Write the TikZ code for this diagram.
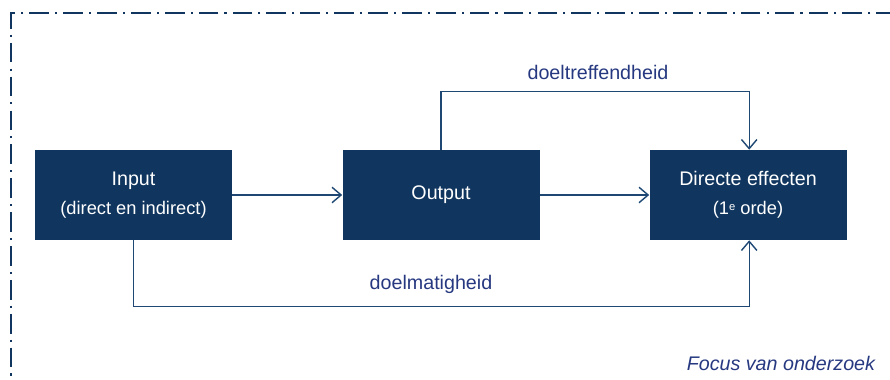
\documentclass[tikz,border=0pt]{standalone}
\usepackage{fontspec}
\setmainfont{Liberation Sans}
\usepackage{tikz}
\usetikzlibrary{arrows.meta, positioning, calc}
\definecolor{boxnavy}{RGB}{16, 53, 94}
\definecolor{linenavy}{RGB}{30, 72, 115}
\definecolor{labelblue}{RGB}{38, 56, 128}

\begin{document}
\begin{tikzpicture}[
    box_node/.style={fill=boxnavy, text=white, minimum width=4.925cm, minimum height=2.25cm, inner sep=0pt, font=\fontsize{14}{16}\selectfont, align=center},
    arrow/.style={-{Straight Barb[length=6.5pt, width=11pt]}, line width=1pt, linenavy},
    route_label/.style={text=labelblue, font=\fontsize{14}{16}\selectfont},
    frame_line/.style={boxnavy, line width=1.4pt, dash pattern=on 14pt off 4.3pt on 1.5pt off 4.3pt}
]
    \useasboundingbox (0,0) rectangle (22.25,9.5);

    % Frame
    \draw[frame_line] (22.4,9.175) -- (0.275,9.175) -- (0.275,-0.2);

    % Boxes
    \node[box_node] (input) at (3.3375,4.625) {Input\\[5pt]{\fontsize{13}{15}\selectfont(direct en indirect)}};
    \node[box_node] (output) at (11.025,4.625) {Output};
    \node[box_node] (effect) at (18.7,4.625) {Directe effecten\\[5pt]{\fontsize{13}{15}\selectfont(1\raisebox{3pt}{\fontsize{8}{9}\selectfont e} orde)}};

    % Arrows
    \draw[arrow] (input.east) -- (output.west);
    \draw[arrow] (output.east) -- (effect.west);
    \draw[arrow] (output.north) -- ++(0,1.45) coordinate (topbend) -| ([xshift=0.03cm]effect.north);
    \draw[arrow] (input.south) -- ++(0,-1.65) coordinate (lowbend) -| ([xshift=0.03cm]effect.south);

    % Labels
    \node[route_label] (hit) at (14.95,7.7) {doeltreffendheid};
    \node[route_label] (eff) at (10.775,2.4) {doelmatigheid};
    \node[route_label, font=\fontsize{14}{16}\selectfont\itshape, anchor=east] (focus) at (22.0,0.425) {Focus van onderzoek};
\end{tikzpicture}
\end{document}
